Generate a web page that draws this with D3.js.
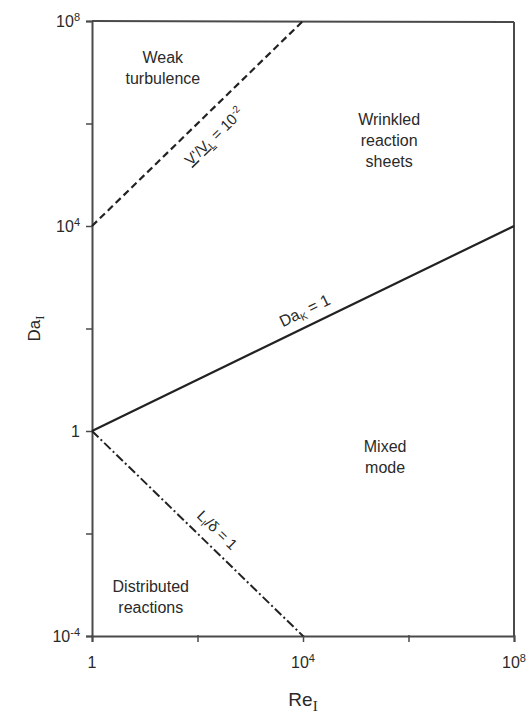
<!DOCTYPE html>
<html><head><meta charset="utf-8">
<script src="https://cdn.jsdelivr.net/npm/d3@7"></script>
<style>body{margin:0;background:#fff}svg{display:block}text{font-family:"Liberation Sans",Arial,sans-serif;fill:#2a2a2a}</style>
</head><body>
<script>
// ---- data ----
const xTicks = [1, 1e2, 1e4, 1e6, 1e8];
const yTicks = [1e-4, 1e-2, 1, 1e2, 1e4, 1e6, 1e8];
const xTickLabels = [{v:1, base:"1", exp:""}, {v:1e4, base:"10", exp:"4"}, {v:1e8, base:"10", exp:"8"}];
const yTickLabels = [{v:1e-4, base:"10", exp:"-4"}, {v:1, base:"1", exp:""}, {v:1e4, base:"10", exp:"4"}, {v:1e8, base:"10", exp:"8"}];
const lineVL = [[1, 1e4], [1e4, 1e8]];      // v'/V_L = 10^-2
const lineDaK = [[1, 1], [1e8, 1e4]];       // Da_K = 1
const lineLd = [[1, 1], [1e4, 1e-4]];       // L_I/delta = 1
const regions = [
  {lines:["Weak","turbulence"], re:22, da:1.5e7},
  {lines:["Wrinkled","reaction","sheets"], re:4.3e5, da:9.3e5},
  {lines:["Mixed","mode"], re:3.6e5, da:0.39},
  {lines:["Distributed","reactions"], re:13, da:7.2e-4}
];

const W = 530, H = 718;
const svg = d3.select("body").append("svg").attr("width", W).attr("height", H);
const x = d3.scaleLog().domain([1, 1e8]).range([92, 514]);
const y = d3.scaleLog().domain([1e-4, 1e8]).range([636, 21]);
const axisCol = "#4a4a4a";

// frame
svg.append("line").attr("x1", x(1)).attr("x2", x(1e8)).attr("y1", y(1e8)).attr("y2", y(1e8)+1).attr("stroke", axisCol).attr("stroke-width", 2);
svg.append("line").attr("x1", x(1e8)).attr("x2", x(1e8)).attr("y1", y(1e8)+1).attr("y2", y(1e-4)).attr("stroke", axisCol).attr("stroke-width", 2);

// axes
const gx = svg.append("g").attr("transform", `translate(0,${y(1e-4)})`)
  .call(d3.axisBottom(x).tickValues(xTicks).tickSize(6).tickFormat(""));
const gy = svg.append("g").attr("transform", `translate(${x(1)},0)`)
  .call(d3.axisLeft(y).tickValues(yTicks).tickSize(6).tickFormat(""));
[gx, gy].forEach(g => {
  g.select(".domain").attr("stroke", axisCol).attr("stroke-width", 2);
  g.selectAll(".tick line").attr("stroke", axisCol).attr("stroke-width", 1.5);
});
gx.selectAll(".tick line").attr("y1", -1);
gy.selectAll(".tick line").attr("x1", 1);

// tick labels
function tickText(sel, d) {
  sel.append("tspan").text(d.base);
  if (d.exp) sel.append("tspan").attr("dy", -6).attr("font-size", 11).text(d.exp);
}
xTickLabels.forEach(d => {
  const t = svg.append("text").attr("x", x(d.v)).attr("y", y(1e-4) + 32)
    .attr("text-anchor", "middle").attr("font-size", 16);
  tickText(t, d);
});
yTickLabels.forEach(d => {
  const t = svg.append("text").attr("x", x(1) - 12).attr("y", y(d.v) + 6)
    .attr("text-anchor", "end").attr("font-size", 16);
  tickText(t, d);
});

// lines
const line = d3.line().x(d => x(d[0])).y(d => y(d[1]));
svg.append("path").attr("d", line(lineVL)).attr("fill", "none").attr("stroke", "#222").attr("stroke-width", 2.2).attr("stroke-dasharray", "7,4");
svg.append("path").attr("d", line(lineDaK)).attr("fill", "none").attr("stroke", "#222").attr("stroke-width", 2.2);
svg.append("path").attr("d", line(lineLd)).attr("fill", "none").attr("stroke", "#222").attr("stroke-width", 2).attr("stroke-dasharray", "9,3,2,3");

// line labels
function angleOf(seg) {
  const dx = x(seg[1][0]) - x(seg[0][0]), dy = y(seg[1][1]) - y(seg[0][1]);
  return Math.atan2(dy, dx) * 180 / Math.PI;
}
function pointAt(seg, f) {
  const lx = Math.log10(seg[0][0]) + f * (Math.log10(seg[1][0]) - Math.log10(seg[0][0]));
  const ly = Math.log10(seg[0][1]) + f * (Math.log10(seg[1][1]) - Math.log10(seg[0][1]));
  return [x(Math.pow(10, lx)), y(Math.pow(10, ly))];
}
// V'/V_L = 10^-2 (below the line)
{
  const a = angleOf(lineVL), p = pointAt(lineVL, 0.51);
  const t = svg.append("text").attr("transform", `translate(${p[0]},${p[1]}) rotate(${a}) translate(0,26)`)
    .attr("text-anchor", "middle").attr("font-size", 15);
  t.append("tspan").attr("text-decoration", "underline").text("V");
  t.append("tspan").text("'/");
  t.append("tspan").attr("text-decoration", "underline").text("V");
  t.append("tspan").attr("font-size", 10).attr("dy", 3).attr("text-decoration", "underline").text("L");
  t.append("tspan").attr("dy", -3).text(" = 10");
  t.append("tspan").attr("font-size", 10).attr("dy", -6).text("-2");
}
// Da_K = 1 (above the line)
{
  const a = angleOf(lineDaK), p = pointAt(lineDaK, 0.52);
  const t = svg.append("text").attr("transform", `translate(${p[0]},${p[1]}) rotate(${a}) translate(0,-10)`)
    .attr("text-anchor", "middle").attr("font-size", 16);
  t.append("tspan").text("Da");
  t.append("tspan").attr("font-size", 10).attr("dy", 3).text("K");
  t.append("tspan").attr("dy", -3).text(" = 1");
}
// L_I/delta = 1 (above the line)
{
  const a = angleOf(lineLd), p = pointAt(lineLd, 0.54);
  const t = svg.append("text").attr("transform", `translate(${p[0]},${p[1]}) rotate(${a}) translate(0,-11)`)
    .attr("text-anchor", "middle").attr("font-size", 15);
  t.append("tspan").text("L");
  t.append("tspan").attr("font-size", 10).attr("dy", 3).text("I");
  t.append("tspan").attr("dy", -3).text("/δ = 1");
}

// region labels
regions.forEach(r => {
  const t = svg.append("text").attr("text-anchor", "middle").attr("font-size", 16)
    .attr("x", x(r.re)).attr("y", y(r.da));
  r.lines.forEach((s, i) => t.append("tspan").attr("x", x(r.re)).attr("dy", i ? 21 : 0).text(s));
});

// axis titles
const yt = svg.append("text").attr("transform", `translate(40,${y(1e2)}) rotate(-90)`)
  .attr("text-anchor", "middle").attr("font-size", 17);
yt.append("tspan").text("Da");
yt.append("tspan").attr("font-family", "Liberation Serif, serif").attr("font-size", 13).attr("dy", 4).text("I");

const xt = svg.append("text").attr("x", x(1e4)).attr("y", 706).attr("text-anchor", "middle").attr("font-size", 19);
xt.append("tspan").text("Re");
xt.append("tspan").attr("font-family", "Liberation Serif, serif").attr("font-size", 15).attr("dy", 5).text("I");
</script>
</body></html>
